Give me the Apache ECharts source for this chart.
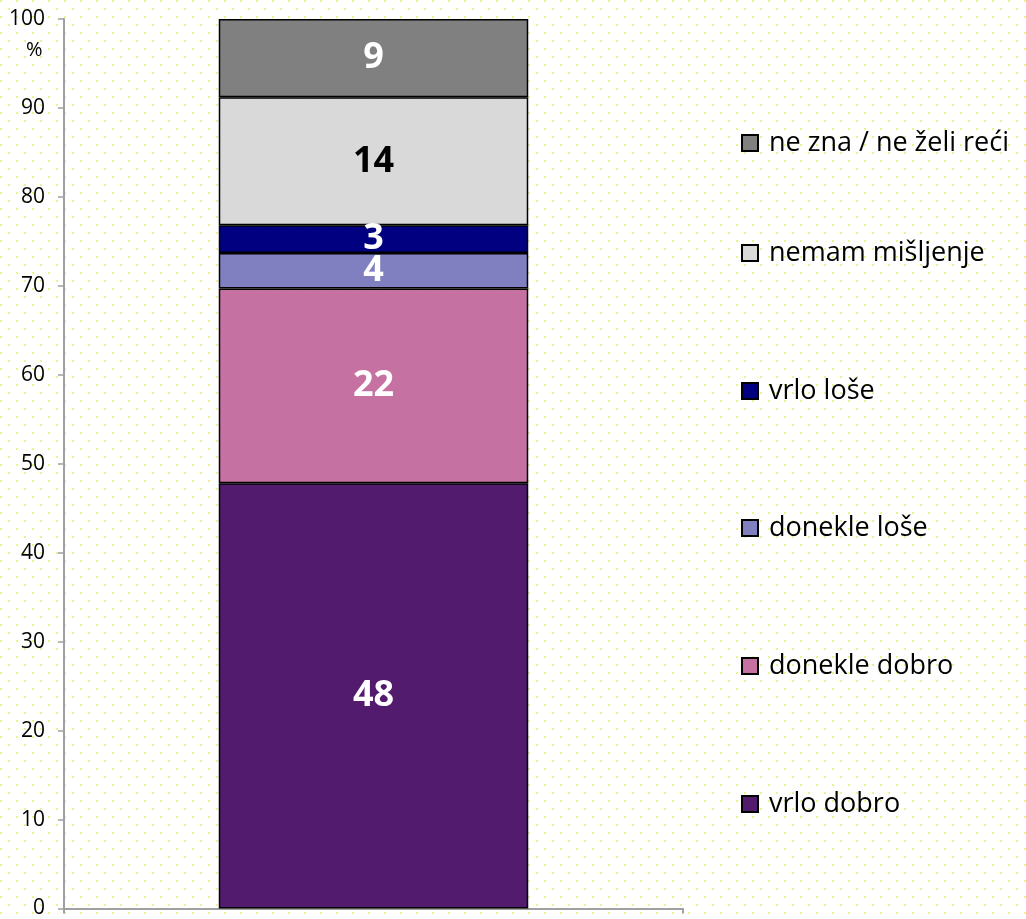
<!DOCTYPE html>
<html lang="hr">
<head>
  <meta charset="UTF-8" />
  <title>Stupac</title>
  <script src="https://cdn.jsdelivr.net/npm/echarts@6/dist/echarts.min.js"></script>
  <style>
    body { margin: 0; background: #fff; }
    #chart { width: 1026px; height: 919px; }
  </style>
</head>
<body>
  <div id="chart"></div>
  <script>
    // podaci (odozdo prema gore)
    const categories = [""];
    const seriesNames = ["vrlo dobro", "donekle dobro", "donekle loše", "vrlo loše", "nemam mišljenje", "ne zna / ne želi reći"];
    const seriesValues = [47.8, 21.9, 4.0, 3.1, 14.4, 8.8];
    const seriesColors = ["#521b6e", "#c572a2", "#8080c0", "#000080", "#d9d9d9", "#808080"];
    const labelColors = ["#fff", "#fff", "#fff", "#fff", "#000", "#fff"];
    const yTicks = [0, 10, 20, 30, 40, 50, 60, 70, 80, 90, 100];

    // točkasta pozadina
    const pat = document.createElement("canvas");
    pat.width = 16; pat.height = 16;
    const ctx = pat.getContext("2d");
    ctx.fillStyle = "#fff";
    ctx.fillRect(0, 0, 16, 16);
    ctx.fillStyle = "#f4ee8c";
    ctx.fillRect(0, 0, 2, 2);
    ctx.fillRect(8, 8, 2, 2);

    const chart = echarts.init(document.getElementById("chart"));

    // legenda: odozgo prema dolje, obrnuto od redoslijeda slaganja
    const legendTops = [123, 233, 371, 508, 646, 784];
    const legends = seriesNames.slice().reverse().map((name, i) => ({
      data: [name],
      left: 736,
      top: legendTops[i],
      icon: "rect",
      itemWidth: 16,
      itemHeight: 16,
      textStyle: {
        fontFamily: "Open Sans",
        fontSize: 27,
        lineHeight: 30,
        color: "#000",
        padding: [0, 0, 0, 6],
      },
    }));

    const series = seriesNames.map((name, i) => ({
      name: name,
      type: "bar",
      stack: "total",
      barWidth: "50%",
      data: [seriesValues[i]],
      itemStyle: { color: seriesColors[i], borderColor: "#000", borderWidth: 1.5 },
      label: {
        show: true,
        position: "inside",
        formatter: (p) => Math.round(p.value),
        color: labelColors[i],
        fontFamily: "Open Sans",
        fontWeight: "bold",
        fontSize: 36,
      },
    }));

    chart.setOption({
      backgroundColor: { image: pat, repeat: "repeat" },
      animation: false,
      grid: { left: 64, right: 343, top: 19, bottom: 8, containLabel: false },
      legend: legends,
      xAxis: {
        type: "category",
        data: categories,
        axisLine: { lineStyle: { color: "#a0a0a0", width: 2 } },
        axisTick: { show: true, length: 5, lineStyle: { color: "#a0a0a0", width: 2 } },
        axisLabel: { show: false },
      },
      yAxis: {
        type: "value",
        min: yTicks[0],
        max: yTicks[yTicks.length - 1],
        interval: 10,
        axisLine: { show: true, lineStyle: { color: "#a0a0a0", width: 2 } },
        axisTick: { show: true, length: 6, lineStyle: { color: "#a0a0a0", width: 1.5 } },
        axisLabel: { color: "#000", fontFamily: "Open Sans", fontSize: 21, margin: 19 },
        splitLine: { show: false },
      },
      graphic: [{
        type: "text",
        left: 26,
        top: 40,
        style: { text: "%", fontFamily: "Open Sans", fontSize: 20, fill: "#000" },
      }],
      series: series,
    });
  </script>
</body>
</html>
